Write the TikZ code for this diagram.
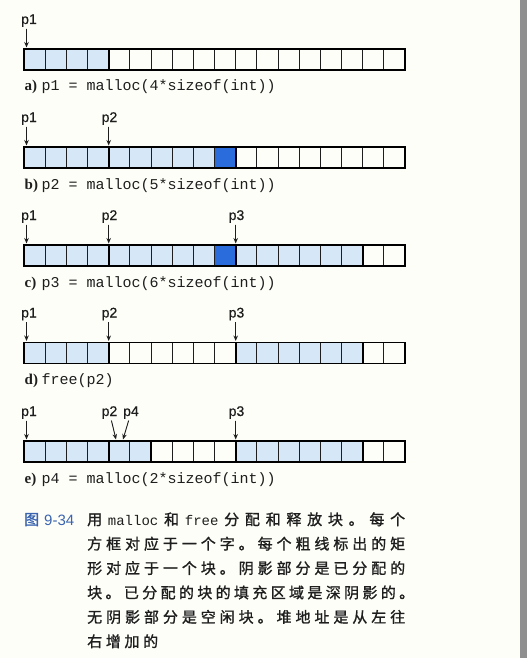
\documentclass[tikz,border=0pt]{standalone}
\usepackage{fontspec}
\setmainfont{Liberation Serif}
\setsansfont{Liberation Sans}
\setmonofont{Liberation Mono}
\newfontfamily\cjkfont[FakeBold=1.2]{Noto Sans CJK SC}
\newfontfamily\lblfont[FakeBold=0.6]{Liberation Sans}
\usetikzlibrary{arrows.meta}
\definecolor{bg}{HTML}{FEFEF8}
\definecolor{lightb}{HTML}{D6E7F7}
\definecolor{darkb}{HTML}{2A6CDC}
\definecolor{capblue}{HTML}{3A64B0}
\definecolor{ink}{HTML}{1E1E1E}
\definecolor{edgegray}{HTML}{8F8F8F}
\def\sprA#1{#1\sprB}
\def\sprB#1{\ifx\relax#1\else\hfill#1\expandafter\sprB\fi}
\newcommand\memrow[3]{%
  \foreach \col [count=\i from 0] in {#2} {
    \fill[\col] (24+\i*21.17,#1) rectangle ++(21.17,21);
  }
  \foreach \i in {1,...,17} \draw[cellline] (24+\i*21.17,#1) -- ++(0,21);
  \foreach \i in {#3} \draw[blockline] (24+\i*21.17,#1) -- ++(0,21);
  \draw[blockline] (24,#1) rectangle ++(381,21);
}
\newcommand\ptrlabel[5]{%
  \node[plabel] (#1) at (#2,#4-25) {#5};
  \coordinate (#1t) at (#3,#4-1.5);
  \draw[ptr] ([yshift=-1.5pt]#1.south -| #1t) -- (#1t);
}
\begin{document}
\begin{tikzpicture}[x=1pt,y=-1pt,
  cellline/.style={line width=0.9pt, draw=ink},
  blockline/.style={line width=1.9pt, draw=black},
  ptr/.style={-{Stealth[length=5.5pt,width=4.5pt]}, line width=0.9pt, draw=ink, fill=ink},
  plabel/.style={font=\fontsize{14}{16}\lblfont, text=ink, inner sep=0pt, anchor=base},
  capletter/.style={font=\fontsize{15}{17}\selectfont\bfseries, text=ink, anchor=base west, inner sep=0pt},
  capcode/.style={font=\fontsize{15}{17}\ttfamily, text=ink, anchor=base west, inner sep=0pt},
  cjkline/.style={font=\fontsize{15}{18}\cjkfont, text=ink, anchor=base west, inner sep=0pt}]
\useasboundingbox (0,0) rectangle (527,658);
\fill[bg] (0,0) rectangle (527,658);
\fill[edgegray] (520,0) rectangle (527,658);

% a
\memrow{49}{lightb,lightb,lightb,lightb,bg,bg,bg,bg,bg,bg,bg,bg,bg,bg,bg,bg,bg,bg}{4}
\ptrlabel{a1}{29}{26.5}{49}{p1}
\node[capletter] (ca) at (24.5,91) {a)};
\node[capcode] (cac) at (41.5,91) {p1 = malloc(4*sizeof(int))};

% b
\memrow{147}{lightb,lightb,lightb,lightb,lightb,lightb,lightb,lightb,lightb,darkb,bg,bg,bg,bg,bg,bg,bg,bg}{4,10}
\ptrlabel{b1}{29}{26.5}{147}{p1}
\ptrlabel{b2}{109.5}{108.7}{147}{p2}
\node[capletter] (cb) at (24.5,189) {b)};
\node[capcode] (cbc) at (41.5,189) {p2 = malloc(5*sizeof(int))};

% c
\memrow{245}{lightb,lightb,lightb,lightb,lightb,lightb,lightb,lightb,lightb,darkb,lightb,lightb,lightb,lightb,lightb,lightb,bg,bg}{4,10,16}
\ptrlabel{c1}{29}{26.5}{245}{p1}
\ptrlabel{c2}{109.5}{108.7}{245}{p2}
\ptrlabel{c3}{236.5}{235.7}{245}{p3}
\node[capletter] (cc) at (24.5,287) {c)};
\node[capcode] (ccc) at (41.5,287) {p3 = malloc(6*sizeof(int))};

% d
\memrow{342.5}{lightb,lightb,lightb,lightb,bg,bg,bg,bg,bg,bg,lightb,lightb,lightb,lightb,lightb,lightb,bg,bg}{4,10,16}
\ptrlabel{d1}{29}{26.5}{342.5}{p1}
\ptrlabel{d2}{109.5}{108.7}{342.5}{p2}
\ptrlabel{d3}{236.5}{235.7}{342.5}{p3}
\node[capletter] (cd) at (24.5,384.5) {d)};
\node[capcode] (cdc) at (41.5,384.5) {free(p2)};

% e
\memrow{441}{lightb,lightb,lightb,lightb,lightb,lightb,bg,bg,bg,bg,lightb,lightb,lightb,lightb,lightb,lightb,bg,bg}{4,6,10,16}
\ptrlabel{e1}{29}{26.5}{441}{p1}
\ptrlabel{e3}{236.5}{235.7}{441}{p3}
\node[plabel] (e2) at (109.5,416) {p2};
\node[plabel] (e4) at (131,416) {p4};
\coordinate (e2t) at (116,439.5);
\coordinate (e4t) at (123,439.5);
\draw[ptr, shorten <=1.5pt] (e2) -- (e2t);
\draw[ptr, shorten <=1.5pt] (e4) -- (e4t);
\node[capletter] (ce) at (24.5,483) {e)};
\node[capcode] (cec) at (41.5,483) {p4 = malloc(2*sizeof(int))};

% figure caption
\node[anchor=base west, inner sep=0pt, text=capblue, font=\fontsize{15}{17}\selectfont] (fig) at (24,525) {{\cjkfont 图}\hspace{5pt}{\sffamily 9-34}};
\node[cjkline] (l1) at (87,525) {\makebox[318pt][s]{用\hfill{\fontsize{14}{16}\ttfamily malloc}\hfill 和\hfill{\fontsize{14}{16}\ttfamily free}\hfill 分\hfill 配\hfill 和\hfill 释\hfill 放\hfill 块\hfill 。\hfill 每\hfill 个}};
\node[cjkline] (l2) at (87,549.4) {\makebox[318pt][s]{\sprA 方框对应于一个字。每个粗线标出的矩\relax}};
\node[cjkline] (l3) at (87,573.8) {\makebox[318pt][s]{\sprA 形对应于一个块。阴影部分是已分配的\relax}};
\node[cjkline] (l4) at (87,598.2) {\makebox[327pt][s]{\sprA 块。已分配的块的填充区域是深阴影的。\relax}};
\node[cjkline] (l5) at (87,622.6) {\makebox[318pt][s]{\sprA 无阴影部分是空闲块。堆地址是从左往\relax}};
\node[cjkline] (l6) at (87,647) {\makebox[71pt][s]{\sprA 右增加的\relax}};
\end{tikzpicture}
\end{document}
